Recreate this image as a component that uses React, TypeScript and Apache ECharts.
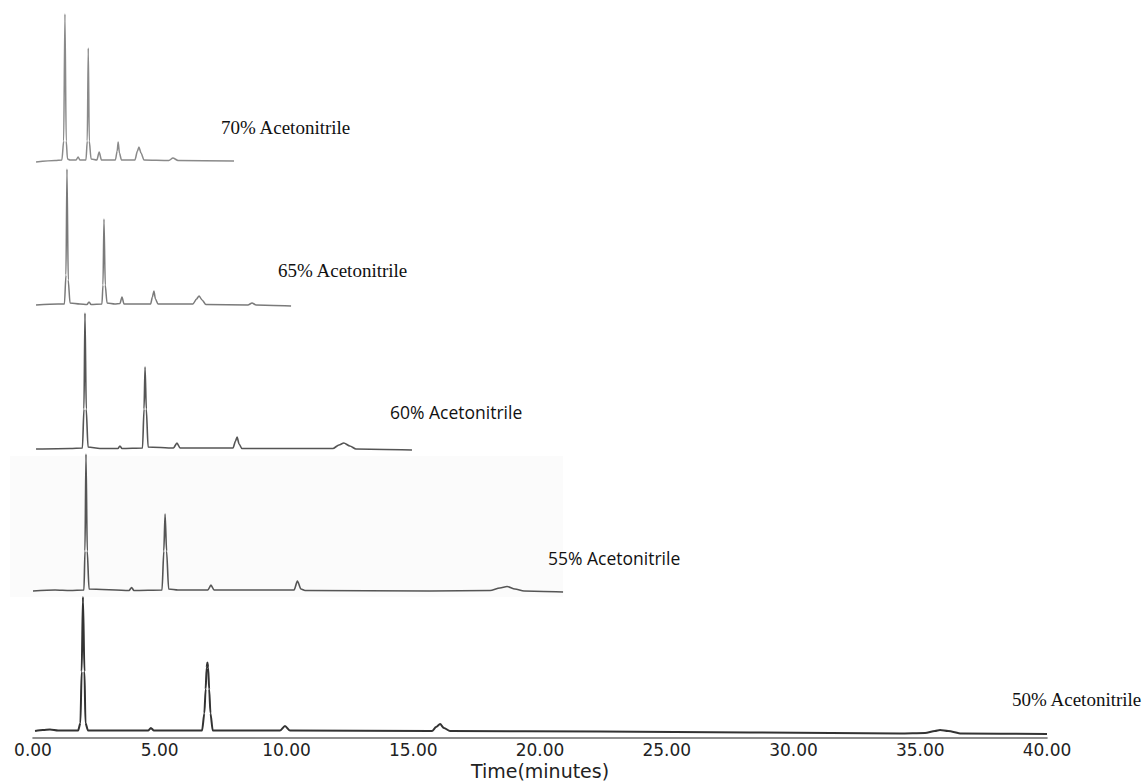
import React, { useEffect, useRef } from "react";
import * as echarts from "echarts";

// Retention time (min) on the shared axis, detector signal (arbitrary units above baseline)
const trace70: [number, number][] = [
  [0.12, -1], [0.87, 0.5], [1.14, 1], [1.21, 20], [1.26, 147], [1.31, 20], [1.36, 2], [1.46, 1],
  [1.70, 1], [1.78, 4], [1.85, 1], [2.09, 1], [2.14, 20], [2.18, 113], [2.22, 20], [2.29, 2],
  [2.52, 1], [2.61, 9], [2.70, 1], [3.25, 1], [3.32, 10], [3.36, 19], [3.41, 8], [3.49, 1],
  [4.02, 1], [4.12, 10], [4.18, 14], [4.26, 8], [4.38, 1], [5.36, 0.5], [5.52, 3], [5.72, 0.5],
  [7.93, 0],
];

const trace65: [number, number][] = [
  [0.12, 0], [0.99, 1], [1.24, 1], [1.30, 30], [1.34, 136], [1.39, 25], [1.46, 2], [1.85, 1],
  [2.13, 0.5], [2.21, 3], [2.29, 0.5], [2.72, 1], [2.76, 20], [2.80, 86], [2.85, 20], [2.92, 2],
  [3.23, 1], [3.43, 1.5], [3.51, 8], [3.59, 1], [4.64, 1], [4.71, 8], [4.77, 14], [4.83, 6],
  [4.93, 1], [6.31, 1], [6.45, 6], [6.55, 9], [6.67, 5], [6.82, 0.5], [8.48, 0], [8.64, 2],
  [8.80, 0], [10.18, -1],
];

const trace60: [number, number][] = [
  [0.12, 0], [1.46, 0.5], [1.95, 1], [2.01, 40], [2.05, 136], [2.10, 40], [2.17, 2], [2.64, 0.5],
  [3.35, 0.5], [3.43, 3], [3.51, 0.5], [4.32, 1], [4.38, 40], [4.42, 82], [4.47, 40], [4.54, 2],
  [5.54, 1], [5.68, 6], [5.80, 1], [7.89, 1], [7.99, 8], [8.05, 12], [8.13, 5], [8.24, 0.5],
  [11.83, 0.5], [12.07, 4], [12.26, 6], [12.50, 3], [12.74, 0], [14.95, -1],
];

const trace55: [number, number][] = [
  [0.0, 0], [0.87, 1], [1.46, 0.5], [2.01, 1], [2.05, 40], [2.09, 137], [2.14, 40], [2.21, 2],
  [3.79, 0.5], [3.89, 3.5], [3.98, 0.5], [5.09, 1], [5.16, 40], [5.21, 77], [5.27, 40], [5.35, 2],
  [5.72, 1], [6.90, 1], [7.02, 6], [7.14, 1], [10.30, 1], [10.43, 10], [10.57, 2], [10.73, 0.5],
  [15.66, 0], [18.03, 0.5], [18.42, 3], [18.70, 4.5], [19.01, 2], [19.37, 0], [20.91, -1],
];

const trace50: [number, number][] = [
  [0.08, 0], [0.39, 1], [0.67, 1.5], [0.99, 0.5], [1.78, 0.5], [1.87, 8], [1.92, 60], [1.97, 135],
  [2.03, 60], [2.07, 8], [2.17, 0.5], [4.54, 0.5], [4.65, 3], [4.77, 0.5], [6.67, 0.5], [6.76, 18],
  [6.81, 42], [6.85, 64], [6.88, 69], [6.91, 64], [6.95, 42], [7.00, 18], [7.09, 0.5], [9.74, 0.5],
  [9.94, 5], [10.14, 0.5], [15.74, 0], [15.90, 4], [16.06, 7], [16.21, 3], [16.45, 0], [22.37, -0.5],
  [34.20, -2.5], [35.19, -2], [35.58, 0], [35.78, 1], [36.10, 0], [36.62, -2.5], [40.0, -3],
];

const traceNames = [
  "70% Acetonitrile",
  "65% Acetonitrile",
  "60% Acetonitrile",
  "55% Acetonitrile",
  "50% Acetonitrile",
];
const traces = [trace70, trace65, trace60, trace55, trace50];
const xTickLabels = ["0.00", "5.00", "10.00", "15.00", "20.00", "25.00", "30.00", "35.00", "40.00"];
const xAxisTitle = "Time(minutes)";

// layout (pixels)
const baselines = [161, 305, 449, 591, 732];
const lineColors = ["#8a8a8a", "#7a7a7a", "#555555", "#555555", "#333333"];
const lineWidths = [1.5, 1.5, 1.6, 1.6, 2];
const labelPos = [
  { x: 221, y: 127, font: "Liberation Serif", size: 19 },
  { x: 278, y: 270, font: "Liberation Serif", size: 19 },
  { x: 390, y: 412, font: "Open Sans", size: 17.5 },
  { x: 548, y: 558, font: "Open Sans", size: 17.5 },
  { x: 1012, y: 699, font: "Liberation Serif", size: 19 },
];

export default function App() {
  const ref = useRef<HTMLDivElement>(null);
  useEffect(() => {
    if (!ref.current) return;
    const chart = echarts.init(ref.current, undefined, { renderer: "svg" });
    const W = 1145;
    const left = 33;
    const right = W - 1047;
    const yMin = -4;
    const yMax = 150;

    const grid = baselines.map((b) => ({
      left,
      right,
      top: b - yMax,
      height: yMax - yMin,
      containLabel: false,
    }));
    const xAxis = baselines.map((_, i) => {
      const last = i === baselines.length - 1;
      return {
        type: "value",
        gridIndex: i,
        min: 0,
        max: 40,
        interval: 5,
        show: last,
        offset: last ? 3 : 0,
        axisLine: { show: last, onZero: false, lineStyle: { color: "#6a6a6a", width: 1.6 } },
        axisTick: { show: false },
        splitLine: { show: false },
        axisLabel: {
          show: last,
          margin: 3,
          color: "#222",
          fontFamily: "DejaVu Sans",
          fontSize: 17,
          formatter: (v: number) => xTickLabels[Math.round(v / 5)] ?? "",
        },
        name: last ? xAxisTitle : "",
        nameLocation: "middle",
        nameGap: 23,
        nameTextStyle: { color: "#222", fontFamily: "DejaVu Sans", fontSize: 19 },
      };
    });
    const yAxis = baselines.map((_, i) => ({
      type: "value",
      gridIndex: i,
      min: yMin,
      max: yMax,
      show: false,
    }));
    const series = traces.map((d, i) => ({
      name: traceNames[i],
      type: "line",
      xAxisIndex: i,
      yAxisIndex: i,
      data: d,
      symbol: "none",
      showSymbol: false,
      smooth: 0.25,
      smoothMonotone: "x",
      lineStyle: { color: lineColors[i], width: lineWidths[i] },
      z: 3,
    }));
    const graphic: any[] = [
      {
        type: "rect",
        z: -10,
        shape: { x: 10, y: 456, width: 553, height: 141 },
        style: { fill: "#fbfbfb" },
        silent: true,
      },
      ...traceNames.map((t, i) => ({
        type: "text",
        x: labelPos[i].x,
        y: labelPos[i].y,
        style: {
          text: t,
          fill: "#111",
          font: `${labelPos[i].size}px "${labelPos[i].font}"`,
          verticalAlign: "middle",
          align: "left",
        },
      })),
    ];

    chart.setOption({
      animation: false,
      backgroundColor: "#ffffff",
      grid,
      xAxis,
      yAxis,
      series,
      graphic,
    });
    return () => chart.dispose();
  }, []);
  return (
    <div
      ref={ref}
      style={{ position: "absolute", left: 0, top: 0, width: 1145, height: 781 }}
    />
  );
}
